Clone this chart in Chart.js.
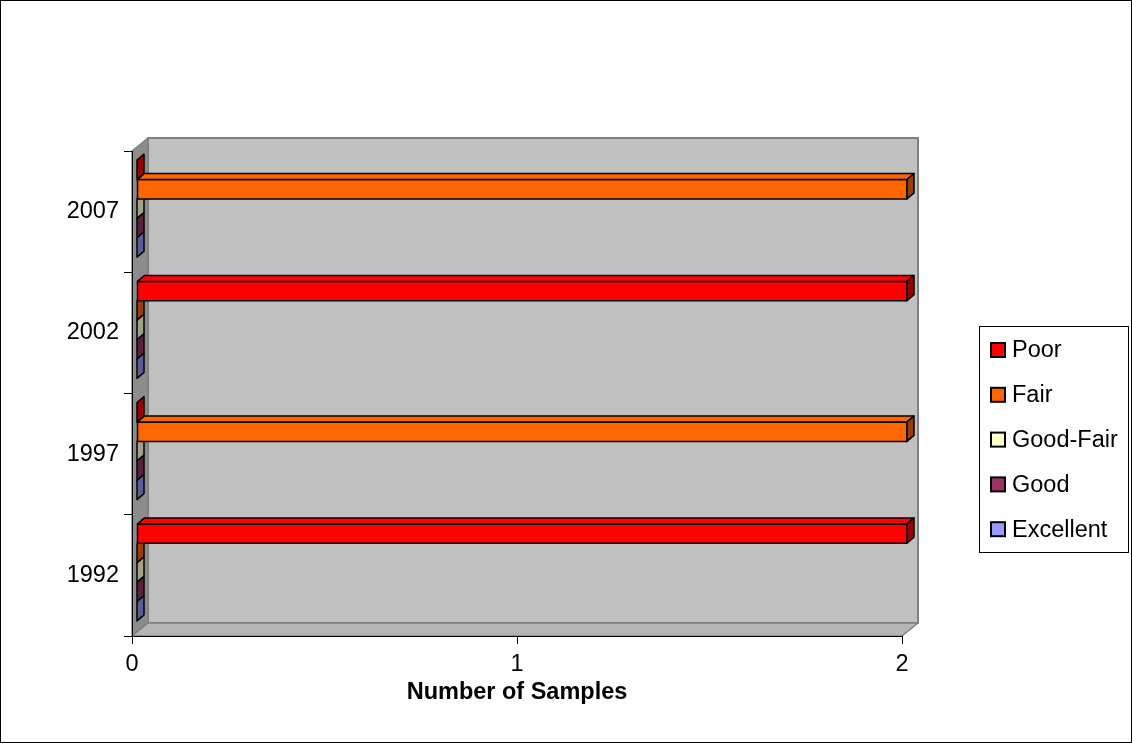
<!DOCTYPE html>
<html>
<head>
<meta charset="utf-8">
<title>Number of Samples</title>
<script src="https://cdn.jsdelivr.net/npm/chart.js@4.4.1/dist/chart.umd.min.js"></script>
<style>
  body { margin: 0; background: #fff; }
  canvas { display: block; }
</style>
</head>
<body>
<canvas id="chart" width="1132" height="743"></canvas>
<script>
// categories, top to bottom as shown
const years = ['2007', '2002', '1997', '1992'];

// number of samples per class
const poor      = [0, 2, 0, 2];
const fair      = [2, 0, 2, 0];
const goodFair  = [0, 0, 0, 0];
const good      = [0, 0, 0, 0];
const excellent = [0, 0, 0, 0];

const seriesNames = ['Poor', 'Fair', 'Good-Fair', 'Good', 'Excellent'];
const xMin = 0, xMax = 2, xStep = 1;

const FONT = "'Liberation Sans', Arial, sans-serif";
const FS = 23.5;

// face colours (front, side)
const colors = ['#ff0000', '#ff6600', '#ffffcc', '#993366', '#9999ff'];
const sides  = ['#990000', '#993d00', '#a3a383', '#5c1f3d', '#5c5c99'];

const WALL = { dx: 16, dy: -13 };
const BAR = { fx: 5, fy: -3, dx: 7, dy: -6 };

function poly(ctx, pts, fill, stroke, lw) {
  ctx.beginPath();
  ctx.moveTo(pts[0][0], pts[0][1]);
  for (let i = 1; i < pts.length; i++) ctx.lineTo(pts[i][0], pts[i][1]);
  ctx.closePath();
  if (fill) { ctx.fillStyle = fill; ctx.fill(); }
  if (stroke) { ctx.strokeStyle = stroke; ctx.lineWidth = lw; ctx.lineJoin = 'round'; ctx.stroke(); }
}

// back wall, side wall and floor
const walls = {
  id: 'walls',
  beforeDraw(chart) {
    const { ctx, chartArea: a } = chart;
    const { dx, dy } = WALL;
    ctx.save();
    poly(ctx, [[a.left + dx, a.top + dy], [a.right + dx, a.top + dy],
               [a.right + dx, a.bottom + dy], [a.left + dx, a.bottom + dy]], '#c0c0c0', '#808080', 2);
    poly(ctx, [[a.left, a.top], [a.left + dx, a.top + dy],
               [a.left + dx, a.bottom + dy], [a.left, a.bottom]], '#8c8c8c', '#808080', 1.5);
    poly(ctx, [[a.left, a.bottom], [a.left + dx, a.bottom + dy],
               [a.right + dx, a.bottom + dy], [a.right, a.bottom]], '#b4b4b4', '#808080', 1.5);
    ctx.restore();
  }
};

// 3d boxes from the bar elements
const bars3d = {
  id: 'bars3d',
  beforeDatasetsDraw(chart) {
    const { ctx } = chart;
    const list = [];
    chart.data.datasets.forEach((ds, i) => {
      chart.getDatasetMeta(i).data.forEach(el => {
        const p = el.getProps(['x', 'y', 'base', 'height'], true);
        list.push({ p, front: colors[i], side: sides[i] });
      });
    });
    list.sort((a, b) => b.p.y - a.p.y);
    ctx.save();
    list.forEach(({ p, front, side }) => {
      const x0 = p.base + BAR.fx, x1 = p.x + BAR.fx;
      const yt = p.y - p.height / 2 + BAR.fy, yb = p.y + p.height / 2 + BAR.fy;
      const { dx, dy } = BAR;
      if (x1 - x0 > 0.5) {
        poly(ctx, [[x0, yt], [x1, yt], [x1, yb], [x0, yb]], front, '#000', 1.5);
        poly(ctx, [[x0, yt], [x0 + dx, yt + dy], [x1 + dx, yt + dy], [x1, yt]], front, '#000', 1.5);
      }
      poly(ctx, [[x1, yt], [x1 + dx, yt + dy], [x1 + dx, yb + dy], [x1, yb]], side, '#000', 1.5);
    });
    ctx.restore();
    return false;
  }
};

// legend box on the right and outer frame
const legendBox = {
  id: 'legendBox',
  afterDraw(chart) {
    const { ctx } = chart;
    ctx.save();
    ctx.strokeStyle = '#000';
    ctx.lineWidth = 1;
    ctx.strokeRect(979.5, 326.5, 149, 226);
    ctx.font = FS + 'px ' + FONT;
    ctx.textBaseline = 'middle';
    ctx.fillStyle = '#000';
    chart.data.datasets.forEach((ds, i) => {
      const cy = 350 + i * 44.8;
      ctx.fillStyle = ds.backgroundColor;
      ctx.fillRect(991, cy - 7, 14, 14);
      ctx.lineWidth = 2;
      ctx.strokeRect(991, cy - 7, 14, 14);
      ctx.fillStyle = '#000';
      ctx.fillText(ds.label, 1012, cy + 1);
    });
    ctx.lineWidth = 1;
    ctx.strokeRect(0.5, 0.5, 1131, 742);
    ctx.restore();
  }
};

const seriesData = [poor, fair, goodFair, good, excellent];

new Chart(document.getElementById('chart'), {
  type: 'bar',
  data: {
    labels: years,
    datasets: seriesNames.map((name, i) => ({
      label: name,
      data: seriesData[i],
      backgroundColor: colors[i],
      borderColor: '#000',
      borderWidth: 1
    }))
  },
  options: {
    indexAxis: 'y',
    responsive: false,
    animation: false,
    devicePixelRatio: 1,
    layout: { padding: { left: 0, top: 151, right: 230, bottom: 0 } },
    datasets: { bar: { categoryPercentage: 0.8, barPercentage: 1 } },
    plugins: {
      legend: { display: false },
      tooltip: { enabled: false }
    },
    scales: {
      x: {
        type: 'linear',
        min: xMin,
        max: xMax,
        afterFit(scale) { scale.height = 107; },
        ticks: { stepSize: xStep, color: '#000', font: { family: FONT, size: FS }, padding: 6 },
        grid: { drawOnChartArea: false, tickLength: 8, color: '#000', lineWidth: 1 },
        border: { color: '#000', width: 1 },
        title: {
          display: true,
          text: 'Number of Samples',
          color: '#000',
          font: { family: FONT, size: FS, weight: 'bold' },
          padding: { top: 0, bottom: 36 }
        }
      },
      y: {
        type: 'category',
        afterFit(scale) { scale.width = 132; },
        ticks: { color: '#000', font: { family: FONT, size: FS }, padding: 5 },
        grid: { drawOnChartArea: false, tickLength: 8, color: '#000', lineWidth: 1, offset: true },
        border: { color: '#000', width: 1 }
      }
    }
  },
  plugins: [walls, bars3d, legendBox]
});
</script>
</body>
</html>
